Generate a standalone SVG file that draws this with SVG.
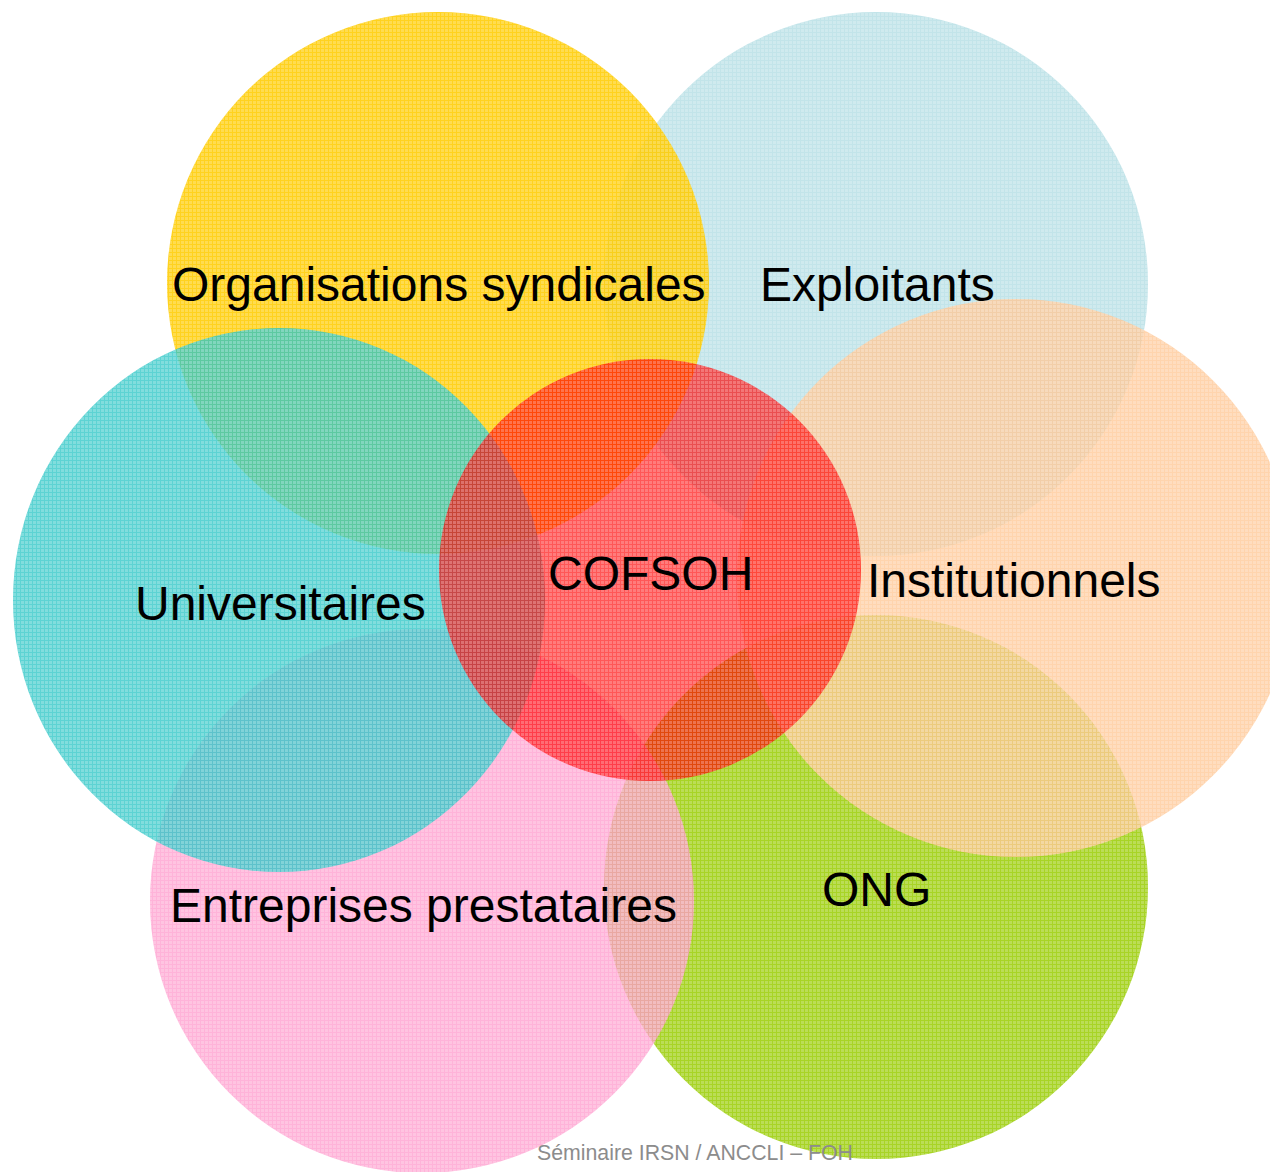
<svg xmlns="http://www.w3.org/2000/svg" width="1270" height="1172" viewBox="0 0 1270 1172">
  <style>
    .lbl { font-family: "Liberation Sans", Arial, sans-serif; font-size: 48px; fill: #000000; }
    .foot { font-family: "Liberation Sans", Arial, sans-serif; font-size: 21.3px; fill: #8C8C8C; }
    .tex { fill: url(#grid); }
    .blue { fill: #A8D8DF; fill-opacity: 0.7; }
    .yellow { fill: #FFCC00; fill-opacity: 0.88; }
    .peach { fill: #FFC896; fill-opacity: 0.78; }
    .green { fill: #99CC00; fill-opacity: 0.85; }
    .pink { fill: #FF99CC; fill-opacity: 0.75; }
    .cyan { fill: #30C6C6; fill-opacity: 0.78; }
    .red { fill: #FF0000; fill-opacity: 0.66; }
  </style>
  <defs>
    <pattern id="grid" width="4" height="4" patternUnits="userSpaceOnUse">
      <rect x="1" y="1" width="3" height="3" fill="#FFFFFF" fill-opacity="0.22"/>
    </pattern>
  </defs>
  <rect width="1270" height="1172" fill="#FFFFFF"/>

  <g id="exploitants">
    <circle class="blue" cx="876" cy="284" r="272"/>
    <circle class="tex" cx="876" cy="284" r="272"/>
    <text class="lbl" x="760" y="301">Exploitants</text>
  </g>

  <g id="organisations-syndicales">
    <circle class="yellow" cx="438" cy="283" r="271"/>
    <circle class="tex" cx="438" cy="283" r="271"/>
    <text class="lbl" x="172" y="301">Organisations syndicales</text>
  </g>

  <g id="ong">
    <circle class="green" cx="876" cy="887" r="272"/>
    <circle class="tex" cx="876" cy="887" r="272"/>
    <text class="lbl" x="822" y="906">ONG</text>
  </g>

  <g id="institutionnels">
    <circle class="peach" cx="1016" cy="578" r="279"/>
    <circle class="tex" cx="1016" cy="578" r="279"/>
    <text class="lbl" x="867" y="597">Institutionnels</text>
  </g>

  <g id="entreprises-prestataires">
    <circle class="pink" cx="422" cy="901" r="272"/>
    <circle class="tex" cx="422" cy="901" r="272"/>
    <text class="lbl" x="170" y="922">Entreprises prestataires</text>
  </g>

  <g id="universitaires">
    <ellipse class="cyan" cx="279" cy="600" rx="266" ry="272"/>
    <ellipse class="tex" cx="279" cy="600" rx="266" ry="272"/>
    <text class="lbl" x="135" y="620">Universitaires</text>
  </g>

  <g id="cofsoh">
    <circle class="red" cx="650" cy="570" r="211"/>
    <circle class="tex" cx="650" cy="570" r="211"/>
    <text class="lbl" x="548" y="590">COFSOH</text>
  </g>

  <g id="connectors"></g>

  <text class="foot" x="537" y="1160">Séminaire IRSN / ANCCLI – FOH</text>
</svg>
